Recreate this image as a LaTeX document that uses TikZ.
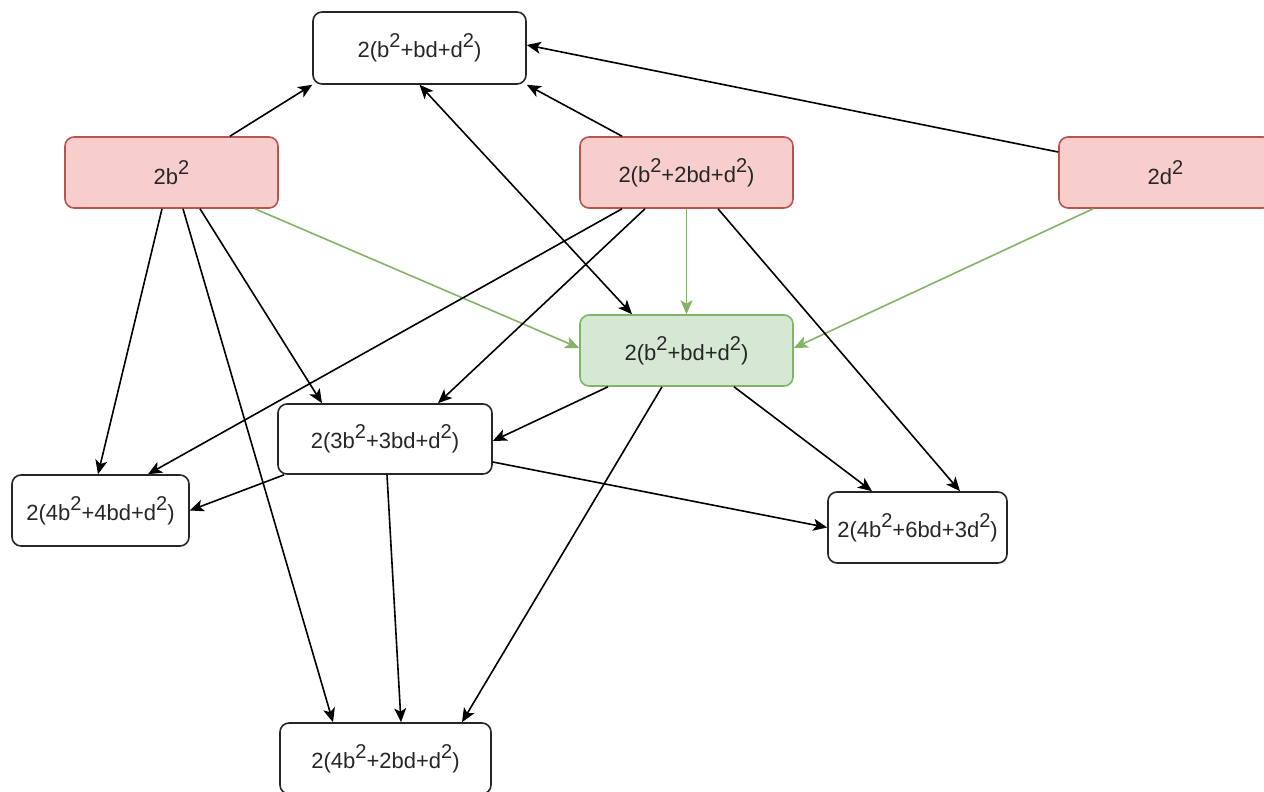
\documentclass[tikz,border=0pt]{standalone}
\usepackage{fontspec}
\setmainfont{Liberation Sans}
\usetikzlibrary{arrows.meta}
\definecolor{redfill}{HTML}{F8CECC}
\definecolor{redline}{HTML}{B85450}
\definecolor{greenfill}{HTML}{D5E8D4}
\definecolor{greenline}{HTML}{82B366}
\newcommand{\sq}{\raisebox{0.45em}{\fontsize{20}{20}\selectfont 2}}
\begin{document}
\begin{tikzpicture}[x=1pt,y=-1pt,
  box/.style={draw=black!85, line width=1.6pt, rounded corners=9pt, fill=white,
    minimum height=71pt, inner sep=0pt, font=\fontsize{22}{24}\selectfont, text=black!85},
  redbox/.style={box, draw=redline, fill=redfill},
  greenbox/.style={box, draw=greenline, fill=greenfill},
  arr/.style={line width=1.6pt, draw=black, -{Stealth[length=14pt,width=12pt,inset=3.5pt]}},
  garr/.style={arr, draw=greenline, fill=greenline},
  barr/.style={line width=1.6pt, draw=black, {Stealth[length=14pt,width=12pt,inset=3.5pt]}-{Stealth[length=14pt,width=12pt,inset=3.5pt]}}
]
\useasboundingbox[fill=white] (0,0) rectangle (1264,792);

\node[box, minimum width=213pt, minimum height=72pt] (top) at (419.5,48) {2(b\sq+bd+d\sq)};
\node[redbox, minimum width=213pt] (b2) at (171.5,172.5) {2b\sq};
\node[redbox, minimum width=213pt] (m) at (686.5,172.5) {2(b\sq+2bd+d\sq)};
\node[redbox, minimum width=213pt] (d2) at (1165.5,172.5) {2d\sq};
\node[greenbox, minimum width=213pt] (g) at (686.5,350.5) {2(b\sq+bd+d\sq)};
\node[box, minimum width=214pt, minimum height=70pt] (n3) at (385,439) {2(3b\sq+3bd+d\sq)};
\node[box, minimum width=177pt] (n44) at (100.5,510.5) {2(4b\sq+4bd+d\sq)};
\node[box, minimum width=179pt] (n46) at (917.5,527.5) {2(4b\sq+6bd+3d\sq)};
\node[box, minimum width=211pt] (n42) at (385.5,758.5) {2(4b\sq+2bd+d\sq)};

% to top
\draw[arr] ([xshift=58.5pt]b2.north) -- (top.south west);
\draw[arr] ([xshift=-64.5pt]m.north) -- (top.south east);
\draw[arr] ([yshift=20.5pt]d2.west) -- ([yshift=3pt]top.east);
\draw[barr] (top.south) -- ([xshift=-54.5pt]g.north);

% green edges
\draw[garr] ([xshift=83.5pt]b2.south) -- ([yshift=2.5pt]g.west);
\draw[garr] (m.south) -- (g.north);
\draw[garr] ([xshift=-72.5pt]d2.south) -- ([yshift=2.5pt]g.east);

% from 2b^2
\draw[arr] ([xshift=-9.5pt]b2.south) -- ([xshift=-2.5pt]n44.north);
\draw[arr] ([xshift=11.5pt]b2.south) -- ([xshift=-52.5pt]n42.north);
\draw[arr] ([xshift=28.5pt]b2.south) -- ([xshift=-63pt]n3.north);

% from middle red
\draw[arr] ([xshift=-64.5pt]m.south) -- ([xshift=47.5pt]n44.north);
\draw[arr] ([xshift=-41.5pt]m.south) -- ([xshift=53pt]n3.north);
\draw[arr] ([xshift=31.5pt]m.south) -- ([xshift=42.5pt]n46.north);

% from green
\draw[arr] ([xshift=-78.5pt]g.south) -- ([yshift=-2pt]n3.east);
\draw[arr] ([xshift=47.5pt]g.south) -- ([xshift=-45.5pt]n46.north);
\draw[arr] ([xshift=-24.5pt]g.south) -- ([xshift=76.5pt]n42.north);

% from 3b^2
\draw[arr] ([xshift=7pt]n3.south west) -- (n44.east);
\draw[arr] ([yshift=-23pt]n3.east) -- (n46.west);
\draw[arr] ([xshift=2pt]n3.south) -- ([xshift=15.5pt]n42.north);
\end{tikzpicture}
\end{document}
